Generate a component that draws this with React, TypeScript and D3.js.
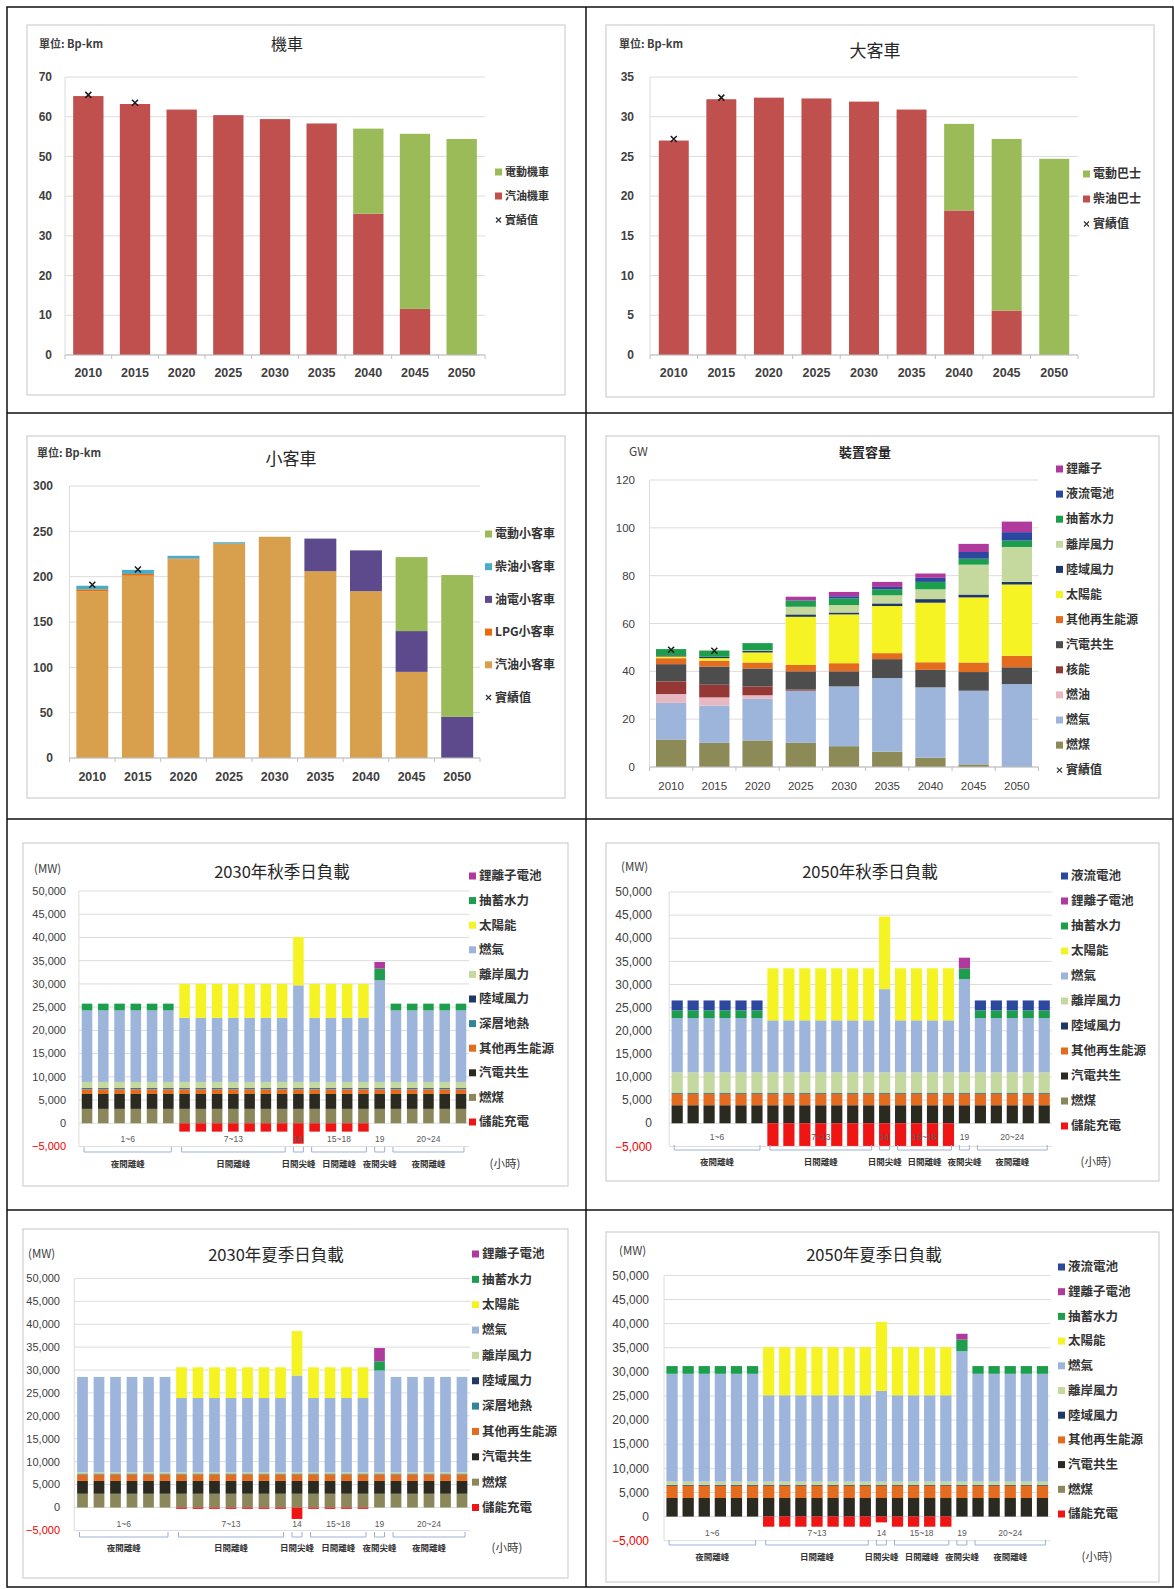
import React, { useEffect, useRef } from 'react';
import * as d3 from 'd3';

const CJK = '"Noto Sans CJK TC", "Noto Sans CJK SC", sans-serif';
const NUM = '"Liberation Sans", Arial, sans-serif';

// ---------- transport / capacity charts ----------
const years = ['2010', '2015', '2020', '2025', '2030', '2035', '2040', '2045', '2050'];

// 機車 (Bp-km)
const motoGasoline = [65.2, 63.2, 61.8, 60.4, 59.4, 58.3, 35.6, 11.6, 0];
const motoElectric = [0, 0, 0, 0, 0, 0, 21.4, 44.1, 54.4];
const motoActual = [65.5, 63.5, null, null, null, null, null, null, null];

// 大客車 (Bp-km)
const busDiesel = [27.0, 32.2, 32.4, 32.3, 31.9, 30.9, 18.2, 5.6, 0];
const busElectric = [0, 0, 0, 0, 0, 0, 10.9, 21.6, 24.7];
const busActual = [27.2, 32.4, null, null, null, null, null, null, null];

// 小客車 (Bp-km)
const carGasoline = [184, 201, 219, 236, 244, 206, 184, 95, 0];
const carLpg = [2, 2, 1, 0.5, 0, 0, 0, 0, 0];
const carHybrid = [0, 0, 0, 0, 0, 36, 45, 45, 45.3];
const carDiesel = [4, 4.5, 3, 1.5, 0, 0, 0, 0, 0];
const carElectric = [0, 0, 0, 0, 0, 0, 0, 81.6, 156.5];
const carActual = [191, 208, null, null, null, null, null, null, null];

// 裝置容量 (GW)
const capCoal = [11.5, 10.1, 11.1, 10.1, 8.7, 6.4, 3.9, 1.1, 0];
const capGas = [15.3, 15.6, 17.5, 21.8, 25.0, 30.8, 29.4, 30.8, 34.7];
const capOil = [3.7, 3.4, 1.4, 0, 0, 0, 0, 0, 0];
const capNuclear = [5.3, 5.3, 3.7, 0.5, 0, 0, 0, 0, 0];
const capCogen = [7.2, 7.6, 7.5, 7.6, 6.3, 7.9, 7.3, 7.8, 7.0];
const capOtherRe = [2.5, 2.5, 2.5, 2.7, 3.4, 2.5, 3.2, 4.0, 4.8];
const capSolar = [0.7, 1.0, 4.2, 20.1, 20.4, 19.7, 24.9, 27.2, 29.8];
const capOnshore = [0.5, 0.6, 0.6, 1.0, 0.8, 1.1, 1.5, 1.2, 1.1];
const capOffshore = [0, 0, 0.3, 3.2, 3.1, 3.4, 4.1, 12.5, 14.6];
const capPumped = [2.6, 2.6, 3.0, 2.5, 2.8, 2.5, 3.1, 2.5, 2.7];
const capFlow = [0, 0, 0, 0.2, 0.9, 1.0, 1.7, 2.8, 3.5];
const capLiion = [0, 0, 0, 1.5, 1.8, 2.1, 1.8, 3.4, 4.4];
const capActual = [49, 48.6, null, null, null, null, null, null, null];

// ---------- daily load charts (MW), hours 1..24 ----------
const hours = ['1', '2', '3', '4', '5', '6', '7', '8', '9', '10', '11', '12', '13', '14', '15', '16', '17', '18', '19', '20', '21', '22', '23', '24'];
const hourGroupStart = [1, 7, 14, 15, 19, 20];
const hourGroupEnd = [6, 13, 14, 18, 19, 24];
const hourGroupLabels = ['1~6', '7~13', '14', '15~18', '19', '20~24'];
const periodLabels = ['夜間離峰', '日間離峰', '日間尖峰', '日間離峰', '夜間尖峰', '夜間離峰'];
const loadTicks = [-5000, 0, 5000, 10000, 15000, 20000, 25000, 30000, 35000, 40000, 45000, 50000];

// 2030年秋季
const a30Coal = [3100, 3100, 3100, 3100, 3100, 3100, 3100, 3100, 3100, 3100, 3100, 3100, 3100, 3100, 3100, 3100, 3100, 3100, 3100, 3100, 3100, 3100, 3100, 3100];
const a30Cogen = [3200, 3200, 3200, 3200, 3200, 3200, 3200, 3200, 3200, 3200, 3200, 3200, 3200, 3200, 3200, 3200, 3200, 3200, 3200, 3200, 3200, 3200, 3200, 3200];
const a30Other = [1000, 1000, 1000, 1000, 1000, 1000, 1000, 1000, 1000, 1000, 1000, 1000, 1000, 1000, 1000, 1000, 1000, 1000, 1000, 1000, 1000, 1000, 1000, 1000];
const a30Geo = [150, 150, 150, 150, 150, 150, 150, 150, 150, 150, 150, 150, 150, 150, 150, 150, 150, 150, 150, 150, 150, 150, 150, 150];
const a30Onshore = [150, 150, 150, 150, 150, 150, 150, 150, 150, 150, 150, 150, 150, 150, 150, 150, 150, 150, 150, 150, 150, 150, 150, 150];
const a30Offshore = [1300, 1300, 1300, 1300, 1300, 1300, 1300, 1300, 1300, 1300, 1300, 1300, 1300, 1300, 1300, 1300, 1300, 1300, 1300, 1300, 1300, 1300, 1300, 1300];
const a30Gas = [15400, 15400, 15400, 15400, 15400, 15400, 13800, 13800, 13800, 13800, 13800, 13800, 13800, 20800, 13800, 13800, 13800, 13800, 21900, 15400, 15400, 15400, 15400, 15400];
const a30Solar = [0, 0, 0, 0, 0, 0, 7300, 7300, 7300, 7300, 7300, 7300, 7300, 10400, 7300, 7300, 7300, 7300, 0, 0, 0, 0, 0, 0];
const a30Pumped = [1450, 1450, 1450, 1450, 1450, 1450, 0, 0, 0, 0, 0, 0, 0, 0, 0, 0, 0, 0, 2500, 1450, 1450, 1450, 1450, 1450];
const a30Liion = [0, 0, 0, 0, 0, 0, 0, 0, 0, 0, 0, 0, 0, 0, 0, 0, 0, 0, 1430, 0, 0, 0, 0, 0];
const a30Charge = [0, 0, 0, 0, 0, 0, -1800, -1800, -1800, -1800, -1800, -1800, -1800, -4400, -1800, -1800, -1800, -1800, 0, 0, 0, 0, 0, 0];

// 2050年秋季
const b50Coal = [0, 0, 0, 0, 0, 0, 0, 0, 0, 0, 0, 0, 0, 0, 0, 0, 0, 0, 0, 0, 0, 0, 0, 0];
const b50Cogen = [3900, 3900, 3900, 3900, 3900, 3900, 3900, 3900, 3900, 3900, 3900, 3900, 3900, 3900, 3900, 3900, 3900, 3900, 3900, 3900, 3900, 3900, 3900, 3900];
const b50Other = [2400, 2400, 2400, 2400, 2400, 2400, 2400, 2400, 2400, 2400, 2400, 2400, 2400, 2400, 2400, 2400, 2400, 2400, 2400, 2400, 2400, 2400, 2400, 2400];
const b50Onshore = [200, 200, 200, 200, 200, 200, 200, 200, 200, 200, 200, 200, 200, 200, 200, 200, 200, 200, 200, 200, 200, 200, 200, 200];
const b50Offshore = [4500, 4500, 4500, 4500, 4500, 4500, 4500, 4500, 4500, 4500, 4500, 4500, 4500, 4500, 4500, 4500, 4500, 4500, 4500, 4500, 4500, 4500, 4500, 4500];
const b50Gas = [11750, 11750, 11750, 11750, 11750, 11750, 11250, 11250, 11250, 11250, 11250, 11250, 11250, 18000, 11250, 11250, 11250, 11250, 20150, 11750, 11750, 11750, 11750, 11750];
const b50Solar = [0, 0, 0, 0, 0, 0, 11250, 11250, 11250, 11250, 11250, 11250, 11250, 15700, 11250, 11250, 11250, 11250, 0, 0, 0, 0, 0, 0];
const b50Pumped = [1650, 1650, 1650, 1650, 1650, 1650, 0, 0, 0, 0, 0, 0, 0, 0, 0, 0, 0, 0, 2300, 1650, 1650, 1650, 1650, 1650];
const b50Liion = [0, 0, 0, 0, 0, 0, 0, 0, 0, 0, 0, 0, 0, 0, 0, 0, 0, 0, 2350, 0, 0, 0, 0, 0];
const b50Flow = [2150, 2150, 2150, 2150, 2150, 2150, 0, 0, 0, 0, 0, 0, 0, 0, 0, 0, 0, 0, 0, 2150, 2150, 2150, 2150, 2150];
const b50Charge = [0, 0, 0, 0, 0, 0, -4900, -4900, -4900, -4900, -4900, -4900, -4900, -4900, -4900, -4900, -4900, -4900, 0, 0, 0, 0, 0, 0];

// 2030年夏季
const c30Coal = [3000, 3000, 3000, 3000, 3000, 3000, 3000, 3000, 3000, 3000, 3000, 3000, 3000, 3000, 3000, 3000, 3000, 3000, 3000, 3000, 3000, 3000, 3000, 3000];
const c30Cogen = [2800, 2800, 2800, 2800, 2800, 2800, 2800, 2800, 2800, 2800, 2800, 2800, 2800, 2800, 2800, 2800, 2800, 2800, 2800, 2800, 2800, 2800, 2800, 2800];
const c30Other = [1400, 1400, 1400, 1400, 1400, 1400, 1400, 1400, 1400, 1400, 1400, 1400, 1400, 1400, 1400, 1400, 1400, 1400, 1400, 1400, 1400, 1400, 1400, 1400];
const c30Geo = [100, 100, 100, 100, 100, 100, 100, 100, 100, 100, 100, 100, 100, 100, 100, 100, 100, 100, 100, 100, 100, 100, 100, 100];
const c30Onshore = [100, 100, 100, 100, 100, 100, 100, 100, 100, 100, 100, 100, 100, 100, 100, 100, 100, 100, 100, 100, 100, 100, 100, 100];
const c30Offshore = [300, 300, 300, 300, 300, 300, 300, 300, 300, 300, 300, 300, 300, 300, 300, 300, 300, 300, 300, 300, 300, 300, 300, 300];
const c30Gas = [20800, 20800, 20800, 20800, 20800, 20800, 16200, 16200, 16200, 16200, 16200, 16200, 16200, 21100, 16200, 16200, 16200, 16200, 22200, 20800, 20800, 20800, 20800, 20800];
const c30Solar = [0, 0, 0, 0, 0, 0, 6700, 6700, 6700, 6700, 6700, 6700, 6700, 9700, 6700, 6700, 6700, 6700, 0, 0, 0, 0, 0, 0];
const c30Pumped = [0, 0, 0, 0, 0, 0, 0, 0, 0, 0, 0, 0, 0, 0, 0, 0, 0, 0, 2000, 0, 0, 0, 0, 0];
const c30Liion = [0, 0, 0, 0, 0, 0, 0, 0, 0, 0, 0, 0, 0, 0, 0, 0, 0, 0, 2900, 0, 0, 0, 0, 0];
const c30Charge = [0, 0, 0, 0, 0, 0, -300, -300, -300, -300, -300, -300, -300, -2500, -300, -300, -300, -300, 0, 0, 0, 0, 0, 0];

// 2050年夏季
const d50Coal = [0, 0, 0, 0, 0, 0, 0, 0, 0, 0, 0, 0, 0, 0, 0, 0, 0, 0, 0, 0, 0, 0, 0, 0];
const d50Cogen = [3850, 3850, 3850, 3850, 3850, 3850, 3850, 3850, 3850, 3850, 3850, 3850, 3850, 3850, 3850, 3850, 3850, 3850, 3850, 3850, 3850, 3850, 3850, 3850];
const d50Other = [2550, 2550, 2550, 2550, 2550, 2550, 2550, 2550, 2550, 2550, 2550, 2550, 2550, 2550, 2550, 2550, 2550, 2550, 2550, 2550, 2550, 2550, 2550, 2550];
const d50Onshore = [150, 150, 150, 150, 150, 150, 150, 150, 150, 150, 150, 150, 150, 150, 150, 150, 150, 150, 150, 150, 150, 150, 150, 150];
const d50Offshore = [700, 700, 700, 700, 700, 700, 700, 700, 700, 700, 700, 700, 700, 700, 700, 700, 700, 700, 700, 700, 700, 700, 700, 700];
const d50Gas = [22350, 22350, 22350, 22350, 22350, 22350, 17900, 17900, 17900, 17900, 17900, 17900, 17900, 18800, 17900, 17900, 17900, 17900, 27050, 22350, 22350, 22350, 22350, 22350];
const d50Solar = [0, 0, 0, 0, 0, 0, 10000, 10000, 10000, 10000, 10000, 10000, 10000, 14300, 10000, 10000, 10000, 10000, 0, 0, 0, 0, 0, 0];
const d50Pumped = [1600, 1600, 1600, 1600, 1600, 1600, 0, 0, 0, 0, 0, 0, 0, 0, 0, 0, 0, 0, 2400, 1600, 1600, 1600, 1600, 1600];
const d50Liion = [0, 0, 0, 0, 0, 0, 0, 0, 0, 0, 0, 0, 0, 0, 0, 0, 0, 0, 1200, 0, 0, 0, 0, 0];
const d50Flow = [0, 0, 0, 0, 0, 0, 0, 0, 0, 0, 0, 0, 0, 0, 0, 0, 0, 0, 0, 0, 0, 0, 0, 0];
const d50Charge = [0, 0, 0, 0, 0, 0, -2100, -2100, -2100, -2100, -2100, -2100, -2100, -1200, -2100, -2100, -2100, -2100, 0, 0, 0, 0, 0, 0];

// colours
const COL = {
  red: '#C0504D', green: '#9BBB59', tan: '#D8A04C', lpg: '#E46C0A', hybrid: '#5C4A8C', diesel: '#4BACC6',
  coal: '#8C8A56', gas: '#9DB5DA', oil: '#E8B8C2', nuclear: '#953735', cogen: '#4D4D4D', other: '#E36C1E',
  solar: '#F5F323', onshore: '#1F3864', offshore: '#C5D99E', pumped: '#1C9E4C', flow: '#2B47A0', liion: '#B0399E',
  lcogen: '#2A2A20', lcoal: '#8A875A', geo: '#31849B', charge: '#F01515',
};

interface Series { key: string; label: string; color: string; values: number[] }
interface Cfg {
  box: [number, number, number, number];
  title: string; titleX: number; titleY: number; titleSize: number; titleWeight: string;
  unit: string; unitX: number; unitY: number; unitSize: number; unitWeight: string;
  cats: string[]; xRange: [number, number]; pad: number;
  yDomain: [number, number]; yRange: [number, number];
  yTicks: number[]; fmt: (v: number) => string; tickX: number; tickSize: number; tickWeight: string;
  series: Series[];
  legendOrder: string[]; legendLabels?: Record<string, string>;
  legendX: number; legendY: number; legendDy: number; legendSize: number;
  actual?: (number | null)[];
  years?: { y: number; size: number; weight: string };
  load?: { hourY: number; bracketY: number; periodY: number; hoursX: number };
}

function drawChart(svg: d3.Selection<SVGSVGElement, unknown, null, undefined>, c: Cfg) {
  const g = svg.append('g');
  const [bx, by, bw, bh] = c.box;
  g.append('rect').attr('x', bx).attr('y', by).attr('width', bw).attr('height', bh)
    .attr('fill', '#fff').attr('stroke', '#cfcfcf').attr('stroke-width', 1.2);

  const x = d3.scaleBand<string>().domain(c.cats).range(c.xRange).paddingInner(c.pad).paddingOuter(c.pad / 2);
  const y = d3.scaleLinear().domain(c.yDomain).range(c.yRange);

  // gridlines
  g.append('g').selectAll('line').data(c.yTicks).join('line')
    .attr('x1', c.xRange[0]).attr('x2', c.xRange[1])
    .attr('y1', d => y(d)).attr('y2', d => y(d))
    .attr('stroke', '#dcdcdc').attr('stroke-width', 1);
  g.append('line').attr('x1', c.xRange[0]).attr('x2', c.xRange[0])
    .attr('y1', y(c.yDomain[0])).attr('y2', y(c.yDomain[1])).attr('stroke', '#dcdcdc');

  // tick labels
  g.append('g').selectAll('text').data(c.yTicks).join('text')
    .attr('x', c.tickX).attr('y', d => y(d)).attr('dy', '0.35em').attr('text-anchor', 'end')
    .attr('font-family', NUM).attr('font-size', c.tickSize).attr('font-weight', c.tickWeight)
    .attr('fill', d => (d < 0 ? '#f00000' : '#404040')).text(d => c.fmt(d));

  // stacked bars
  const rows = c.cats.map((cat, i) => {
    const r: Record<string, any> = { cat };
    c.series.forEach(s => { r[s.key] = s.values[i]; });
    return r;
  });
  const layers = d3.stack<any>().keys(c.series.map(s => s.key)).offset(d3.stackOffsetDiverging)(rows);
  layers.forEach((layer, li) => {
    g.append('g').attr('fill', c.series[li].color).selectAll('rect').data(layer).join('rect')
      .attr('x', d => x(d.data.cat)!).attr('width', x.bandwidth())
      .attr('y', d => y(Math.max(d[0], d[1])))
      .attr('height', d => Math.abs(y(d[0]) - y(d[1])));
  });

  // actual values
  if (c.actual) {
    const pts = c.cats.map((cat, i) => ({ cat, v: c.actual![i] })).filter(p => p.v != null);
    g.append('g').selectAll('path').data(pts).join('path')
      .attr('d', p => {
        const cx = x(p.cat)! + x.bandwidth() / 2;
        const cy = y(p.v as number);
        return `M${cx - 3},${cy - 3}L${cx + 3},${cy + 3}M${cx - 3},${cy + 3}L${cx + 3},${cy - 3}`;
      })
      .attr('stroke', '#1a1a1a').attr('stroke-width', 1.5);
  }

  // year axis
  if (c.years) {
    const y0 = y(0);
    g.append('line').attr('x1', c.xRange[0]).attr('x2', c.xRange[1]).attr('y1', y0).attr('y2', y0)
      .attr('stroke', '#bfbfbf');
    g.append('g').selectAll('line').data(d3.range(c.cats.length + 1)).join('line')
      .attr('x1', i => c.xRange[0] + i * x.step()).attr('x2', i => c.xRange[0] + i * x.step())
      .attr('y1', y0).attr('y2', y0 + 4).attr('stroke', '#bfbfbf');
    g.append('g').selectAll('text').data(c.cats).join('text')
      .attr('x', d => x(d)! + x.bandwidth() / 2).attr('y', c.years.y).attr('dy', '0.35em')
      .attr('text-anchor', 'middle').attr('font-family', NUM).attr('font-size', c.years.size)
      .attr('font-weight', c.years.weight).attr('fill', '#404040').text(d => d);
  }

  // hour groups + brackets
  if (c.load) {
    const L = c.load;
    hourGroupStart.forEach((s, i) => {
      const e = hourGroupEnd[i];
      const c1 = x(String(s))! + x.bandwidth() / 2;
      const c2 = x(String(e))! + x.bandwidth() / 2;
      const x1 = s === e ? c1 - 5 : c1 - 3;
      const x2 = s === e ? c2 + 5 : c2 + 3;
      const mid = (c1 + c2) / 2;
      g.append('text').attr('x', mid).attr('y', L.hourY).attr('dy', '0.35em').attr('text-anchor', 'middle')
        .attr('font-family', NUM).attr('font-size', 8.5).attr('fill', '#595959').text(hourGroupLabels[i]);
      g.append('path').attr('d', `M${x1},${L.bracketY - 5}V${L.bracketY}H${x2}V${L.bracketY - 5}`)
        .attr('fill', 'none').attr('stroke', '#9fb0d6').attr('stroke-width', 1);
      g.append('text').attr('x', mid).attr('y', L.periodY).attr('dy', '0.35em').attr('text-anchor', 'middle')
        .attr('font-family', CJK).attr('font-size', 8.5).attr('font-weight', 'bold').attr('fill', '#333')
        .text(periodLabels[i]);
    });
    g.append('text').attr('x', L.hoursX).attr('y', L.periodY).attr('dy', '0.35em').attr('text-anchor', 'middle')
      .attr('font-family', CJK).attr('font-size', 11.5).attr('fill', '#404040').text('(小時)');
  }

  // titles
  g.append('text').attr('x', c.titleX).attr('y', c.titleY).attr('dy', '0.35em').attr('text-anchor', 'middle')
    .attr('font-family', CJK).attr('font-size', c.titleSize).attr('font-weight', c.titleWeight)
    .attr('fill', '#262626').text(c.title);
  g.append('text').attr('x', c.unitX).attr('y', c.unitY).attr('dy', '0.35em')
    .attr('font-family', CJK).attr('font-size', c.unitSize).attr('font-weight', c.unitWeight)
    .attr('fill', '#404040').text(c.unit);

  // legend
  c.legendOrder.forEach((k, i) => {
    const ly = c.legendY + i * c.legendDy;
    let label = '實績值';
    if (k === 'actual') {
      const cx = c.legendX + 3.5;
      g.append('path').attr('d', `M${cx - 2.5},${ly - 2.5}L${cx + 2.5},${ly + 2.5}M${cx - 2.5},${ly + 2.5}L${cx + 2.5},${ly - 2.5}`)
        .attr('stroke', '#333').attr('stroke-width', 1.2);
    } else {
      const s = c.series.find(ss => ss.key === k)!;
      label = (c.legendLabels && c.legendLabels[k]) || s.label;
      g.append('rect').attr('x', c.legendX).attr('y', ly - 3.5).attr('width', 7).attr('height', 7).attr('fill', s.color);
    }
    g.append('text').attr('x', c.legendX + 10).attr('y', ly).attr('dy', '0.35em')
      .attr('font-family', CJK).attr('font-size', c.legendSize).attr('font-weight', 'bold')
      .attr('fill', '#333').text(label);
  });
}

const fmtPlain = (v: number) => String(v);
const fmtComma = d3.format(',');

function loadSeries(year: '2030' | '2050', sets: Record<string, number[]>): Series[] {
  const defs: [string, string, string][] = year === '2030'
    ? [['coal', '燃煤', COL.lcoal], ['cogen', '汽電共生', COL.lcogen], ['other', '其他再生能源', COL.other],
       ['geo', '深層地熱', COL.geo], ['onshore', '陸域風力', COL.onshore], ['offshore', '離岸風力', COL.offshore],
       ['gas', '燃氣', COL.gas], ['solar', '太陽能', COL.solar], ['pumped', '抽蓄水力', COL.pumped],
       ['liion', '鋰離子電池', COL.liion], ['charge', '儲能充電', COL.charge]]
    : [['coal', '燃煤', COL.lcoal], ['cogen', '汽電共生', COL.lcogen], ['other', '其他再生能源', COL.other],
       ['onshore', '陸域風力', COL.onshore], ['offshore', '離岸風力', COL.offshore],
       ['gas', '燃氣', COL.gas], ['solar', '太陽能', COL.solar], ['pumped', '抽蓄水力', COL.pumped],
       ['liion', '鋰離子電池', COL.liion], ['flow', '液流電池', COL.flow], ['charge', '儲能充電', COL.charge]];
  return defs.map(([key, label, color]) => ({ key, label, color, values: sets[key] }));
}

const legend30 = ['liion', 'pumped', 'solar', 'gas', 'offshore', 'onshore', 'geo', 'other', 'cogen', 'coal', 'charge'];
const legend50 = ['flow', 'liion', 'pumped', 'solar', 'gas', 'offshore', 'onshore', 'other', 'cogen', 'coal', 'charge'];

const charts: Cfg[] = [
  {
    box: [27, 25, 538, 370],
    title: '機車', titleX: 287, titleY: 44, titleSize: 16, titleWeight: 'normal',
    unit: '單位: Bp-km', unitX: 39, unitY: 44, unitSize: 11, unitWeight: 'bold',
    cats: years, xRange: [65, 485], pad: 0.35,
    yDomain: [0, 70], yRange: [355, 77], yTicks: [0, 10, 20, 30, 40, 50, 60, 70], fmt: fmtPlain,
    tickX: 52, tickSize: 12, tickWeight: 'bold',
    series: [
      { key: 'gas', label: '汽油機車', color: COL.red, values: motoGasoline },
      { key: 'ev', label: '電動機車', color: COL.green, values: motoElectric },
    ],
    legendOrder: ['ev', 'gas', 'actual'], legendX: 495, legendY: 172, legendDy: 24, legendSize: 11,
    actual: motoActual, years: { y: 373, size: 12.5, weight: 'bold' },
  },
  {
    box: [606, 25, 548, 372],
    title: '大客車', titleX: 875, titleY: 51, titleSize: 17, titleWeight: 'normal',
    unit: '單位: Bp-km', unitX: 619, unitY: 44, unitSize: 11, unitWeight: 'bold',
    cats: years, xRange: [650, 1078], pad: 0.37,
    yDomain: [0, 35], yRange: [355, 77], yTicks: [0, 5, 10, 15, 20, 25, 30, 35], fmt: fmtPlain,
    tickX: 634, tickSize: 12, tickWeight: 'bold',
    series: [
      { key: 'diesel', label: '柴油巴士', color: COL.red, values: busDiesel },
      { key: 'ev', label: '電動巴士', color: COL.green, values: busElectric },
    ],
    legendOrder: ['ev', 'diesel', 'actual'], legendX: 1083, legendY: 174, legendDy: 25, legendSize: 12,
    actual: busActual, years: { y: 373, size: 12.5, weight: 'bold' },
  },
  {
    box: [27, 436, 538, 362],
    title: '小客車', titleX: 291, titleY: 459, titleSize: 17, titleWeight: 'normal',
    unit: '單位: Bp-km', unitX: 37, unitY: 453, unitSize: 11, unitWeight: 'bold',
    cats: years, xRange: [69.5, 480], pad: 0.3,
    yDomain: [0, 300], yRange: [758, 486], yTicks: [0, 50, 100, 150, 200, 250, 300], fmt: fmtPlain,
    tickX: 53, tickSize: 12, tickWeight: 'bold',
    series: [
      { key: 'gas', label: '汽油小客車', color: COL.tan, values: carGasoline },
      { key: 'lpg', label: 'LPG小客車', color: COL.lpg, values: carLpg },
      { key: 'hybrid', label: '油電小客車', color: COL.hybrid, values: carHybrid },
      { key: 'diesel', label: '柴油小客車', color: COL.diesel, values: carDiesel },
      { key: 'ev', label: '電動小客車', color: COL.green, values: carElectric },
    ],
    legendOrder: ['ev', 'diesel', 'hybrid', 'lpg', 'gas', 'actual'], legendX: 485, legendY: 534, legendDy: 32.7, legendSize: 12,
    actual: carActual, years: { y: 777, size: 12.5, weight: 'bold' },
  },
  {
    box: [606, 436, 553, 362],
    title: '裝置容量', titleX: 865, titleY: 452, titleSize: 13, titleWeight: 'bold',
    unit: 'GW', unitX: 629, unitY: 452, unitSize: 12, unitWeight: 'normal',
    cats: years, xRange: [649.5, 1038.5], pad: 0.3,
    yDomain: [0, 120], yRange: [767, 480], yTicks: [0, 20, 40, 60, 80, 100, 120], fmt: fmtPlain,
    tickX: 635, tickSize: 11.5, tickWeight: 'normal',
    series: [
      { key: 'coal', label: '燃煤', color: COL.coal, values: capCoal },
      { key: 'gas', label: '燃氣', color: COL.gas, values: capGas },
      { key: 'oil', label: '燃油', color: COL.oil, values: capOil },
      { key: 'nuclear', label: '核能', color: COL.nuclear, values: capNuclear },
      { key: 'cogen', label: '汽電共生', color: COL.cogen, values: capCogen },
      { key: 'other', label: '其他再生能源', color: COL.other, values: capOtherRe },
      { key: 'solar', label: '太陽能', color: COL.solar, values: capSolar },
      { key: 'onshore', label: '陸域風力', color: COL.onshore, values: capOnshore },
      { key: 'offshore', label: '離岸風力', color: COL.offshore, values: capOffshore },
      { key: 'pumped', label: '抽蓄水力', color: COL.pumped, values: capPumped },
      { key: 'flow', label: '液流電池', color: COL.flow, values: capFlow },
      { key: 'liion', label: '鋰離子', color: COL.liion, values: capLiion },
    ],
    legendOrder: ['liion', 'flow', 'pumped', 'offshore', 'onshore', 'solar', 'other', 'cogen', 'nuclear', 'oil', 'gas', 'coal', 'actual'],
    legendX: 1056, legendY: 469, legendDy: 25.1, legendSize: 12,
    actual: capActual, years: { y: 786, size: 11.5, weight: 'normal' },
  },
  {
    box: [23, 843, 545, 343],
    title: '2030年秋季日負載', titleX: 282, titleY: 872, titleSize: 16.5, titleWeight: 'normal',
    unit: '(MW)', unitX: 34, unitY: 869, unitSize: 11.5, unitWeight: 'normal',
    cats: hours, xRange: [78.9, 469.1], pad: 0.35,
    yDomain: [-5000, 50000], yRange: [1146.5, 891], yTicks: loadTicks, fmt: fmtComma,
    tickX: 66, tickSize: 11, tickWeight: 'normal',
    series: loadSeries('2030', { coal: a30Coal, cogen: a30Cogen, other: a30Other, geo: a30Geo, onshore: a30Onshore, offshore: a30Offshore, gas: a30Gas, solar: a30Solar, pumped: a30Pumped, liion: a30Liion, charge: a30Charge }),
    legendOrder: legend30, legendX: 469, legendY: 876, legendDy: 24.6, legendSize: 12.5,
    load: { hourY: 1139.5, bracketY: 1152, periodY: 1164, hoursX: 505 },
  },
  {
    box: [606, 843, 553, 338],
    title: '2050年秋季日負載', titleX: 870, titleY: 872, titleSize: 16.5, titleWeight: 'normal',
    unit: '(MW)', unitX: 621, unitY: 867, unitSize: 11.5, unitWeight: 'normal',
    cats: hours, xRange: [669.2, 1052.2], pad: 0.3,
    yDomain: [-5000, 50000], yRange: [1146.4, 892], yTicks: loadTicks, fmt: fmtComma,
    tickX: 652, tickSize: 12, tickWeight: 'normal',
    series: loadSeries('2050', { coal: b50Coal, cogen: b50Cogen, other: b50Other, onshore: b50Onshore, offshore: b50Offshore, gas: b50Gas, solar: b50Solar, pumped: b50Pumped, liion: b50Liion, flow: b50Flow, charge: b50Charge }),
    legendOrder: legend50, legendX: 1061, legendY: 876, legendDy: 25, legendSize: 12.5,
    load: { hourY: 1137.5, bracketY: 1150, periodY: 1162, hoursX: 1096 },
  },
  {
    box: [23, 1229, 545, 349],
    title: '2030年夏季日負載', titleX: 276, titleY: 1255, titleSize: 16.5, titleWeight: 'normal',
    unit: '(MW)', unitX: 28, unitY: 1254, unitSize: 11.5, unitWeight: 'normal',
    cats: hours, xRange: [74.25, 470.25], pad: 0.35,
    yDomain: [-5000, 50000], yRange: [1530.4, 1278.4], yTicks: loadTicks, fmt: fmtComma,
    tickX: 60, tickSize: 11, tickWeight: 'normal',
    series: loadSeries('2030', { coal: c30Coal, cogen: c30Cogen, other: c30Other, geo: c30Geo, onshore: c30Onshore, offshore: c30Offshore, gas: c30Gas, solar: c30Solar, pumped: c30Pumped, liion: c30Liion, charge: c30Charge }),
    legendOrder: legend30, legendX: 472, legendY: 1254, legendDy: 25.35, legendSize: 12.5,
    load: { hourY: 1524, bracketY: 1537, periodY: 1548, hoursX: 507 },
  },
  {
    box: [606, 1232, 553, 350],
    title: '2050年夏季日負載', titleX: 874, titleY: 1255, titleSize: 16.5, titleWeight: 'normal',
    unit: '(MW)', unitX: 619, unitY: 1251, unitSize: 11.5, unitWeight: 'normal',
    cats: hours, xRange: [664, 1050.5], pad: 0.3,
    yDomain: [-5000, 50000], yRange: [1540.7, 1275.4], yTicks: loadTicks, fmt: fmtComma,
    tickX: 649, tickSize: 12, tickWeight: 'normal',
    series: loadSeries('2050', { coal: d50Coal, cogen: d50Cogen, other: d50Other, onshore: d50Onshore, offshore: d50Offshore, gas: d50Gas, solar: d50Solar, pumped: d50Pumped, liion: d50Liion, flow: d50Flow, charge: d50Charge }),
    legendOrder: legend50, legendX: 1058, legendY: 1267, legendDy: 24.7, legendSize: 12.5,
    load: { hourY: 1533, bracketY: 1545, periodY: 1557, hoursX: 1097 },
  },
];

export default function App() {
  const ref = useRef<SVGSVGElement>(null);

  useEffect(() => {
    const svg = d3.select(ref.current!);
    svg.selectAll('*').remove();
    svg.append('rect').attr('width', 1174).attr('height', 1589).attr('fill', '#fff');

    charts.forEach(c => drawChart(svg, c));

    // table frame
    const t = svg.append('g').attr('stroke', '#111').attr('stroke-width', 1.5).attr('fill', 'none');
    t.append('rect').attr('x', 7).attr('y', 7).attr('width', 1166).attr('height', 1580);
    t.append('line').attr('x1', 586).attr('x2', 586).attr('y1', 7).attr('y2', 1587);
    [413, 819, 1210].forEach(yy => {
      t.append('line').attr('x1', 7).attr('x2', 1173).attr('y1', yy).attr('y2', yy);
    });
  }, []);

  return (
    <svg ref={ref} width={1174} height={1589}
      style={{ position: 'absolute', left: 0, top: 0, display: 'block' }} />
  );
}
